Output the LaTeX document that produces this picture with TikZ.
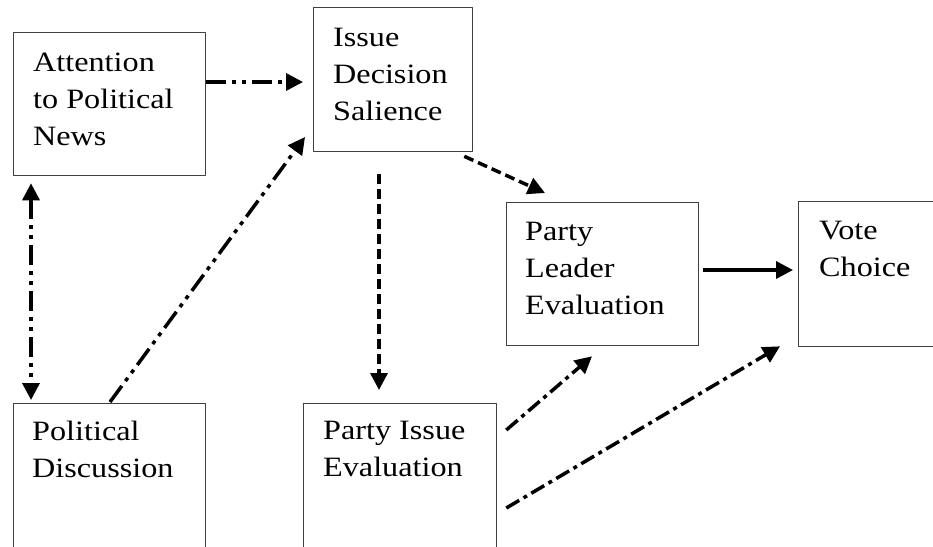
\documentclass[tikz,border=0pt]{standalone}
\usepackage{fontspec}
\setmainfont[FakeStretch=1.15]{Liberation Serif}
\usetikzlibrary{arrows.meta,calc}

\tikzset{
  box/.style={draw=black!75, line width=1.3pt, anchor=north west, inner sep=0pt},
  txt/.style={anchor=north west, inner sep=0pt, align=left, font=\fontsize{28}{37}\selectfont},
  link/.style={line width=3.5pt, -{Triangle[length=17pt,width=17pt]}},
  ddot/.style={link, dash pattern=on 20pt off 6pt on 4pt off 6pt on 4pt off 6pt},
  dsh/.style={link, dash pattern=on 10pt off 5pt},
  ddash/.style={link, dash pattern=on 15pt off 5pt on 4pt off 5pt}
}

\begin{document}
\begin{tikzpicture}[x=1pt, y=-1pt, line join=round]
\useasboundingbox (0,0) rectangle (933,546);
\clip (0,0) rectangle (933,546);
\node[box, minimum width=192pt, minimum height=143pt] (attn)       at (13,32)   {};
\node[box, minimum width=159pt, minimum height=144pt] (salience)   at (313,7)   {};
\node[box, minimum width=192pt, minimum height=143pt] (leader)     at (506,202) {};
\node[box, minimum width=200pt, minimum height=145pt] (vote)       at (798,201) {};
\node[box, minimum width=192pt, minimum height=200pt] (discuss)    at (13,403)  {};
\node[box, minimum width=193pt, minimum height=200pt] (partyissue) at (303,403) {};
\node[txt] (attn-t)       at ($(attn.north west)+(20,21)$)       {Attention\\to Political\\News};
\node[txt] (salience-t)   at ($(salience.north west)+(20,21)$)   {Issue\\Decision\\Salience};
\node[txt] (leader-t)     at ($(leader.north west)+(19,20)$)     {Party\\Leader\\Evaluation};
\node[txt] (vote-t)       at ($(vote.north west)+(21,20)$)       {Vote\\Choice};
\node[txt] (discuss-t)    at ($(discuss.north west)+(19,18)$)    {Political\\Discussion};
\node[txt] (partyissue-t) at ($(partyissue.north west)+(20,18)$) {Party Issue\\Evaluation};
% connectors
\draw[ddot] ($(attn.north east)+(0,50)$) -- ($(salience.north west)+(-10,75)$);
\draw[ddot, {Triangle[length=17pt,width=17pt]}-{Triangle[length=17pt,width=17pt]}] ($(attn.south west)+(18,7)$) -- ($(discuss.north west)+(18,-3)$);
\draw[ddot] ($(discuss.north west)+(97,-1)$) -- ($(salience.north west)+(-8,130)$);
\draw[dsh] ($(salience.south west)+(66,22)$) -- ($(partyissue.north west)+(76,-13)$);
\draw[dsh] ($(salience.south east)+(-9,4)$) -- ($(leader.north west)+(39,-9)$);
\draw[link] ($(leader.north east)+(4,68)$) -- ($(vote.north west)+(-5,69)$);
\draw[ddash] ($(partyissue.north east)+(9,27)$) -- ($(leader.south west)+(86,10)$);
\draw[ddash] ($(partyissue.north east)+(9,105)$) -- ($(vote.south west)+(-18,-1)$);
\end{tikzpicture}
\end{document}
